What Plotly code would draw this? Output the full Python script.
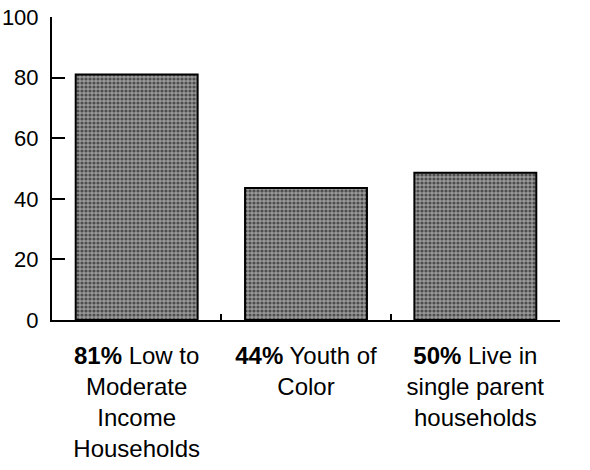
import plotly.graph_objects as go

categories = ["Low to Moderate Income Households", "Youth of Color", "Live in single parent households"]
values = [81, 43.6, 48.6]
pct_labels = ["81%", "44%", "50%"]
tick_lines = [["Low to", "Moderate", "Income", "Households"],
              ["Youth of", "Color"],
              ["Live in", "single parent", "households"]]
y_ticks = [0, 20, 40, 60, 80, 100]

ticktext = []
for p, lines in zip(pct_labels, tick_lines):
    ticktext.append("<b>" + p + "</b> " + "<br>".join(lines))

fig = go.Figure(go.Bar(
    x=categories, y=values,
    marker=dict(
        color="#8c8c8c",
        line=dict(color="#000", width=2),
        pattern=dict(shape=".", fgcolor="#000", bgcolor="#9a9a9a", size=4, solidity=0.5, fillmode="overlay"),
    ),
    width=0.72,
))

fig.update_layout(
    width=590, height=470,
    margin=dict(l=52, r=30, t=17, b=150),
    paper_bgcolor="white", plot_bgcolor="white",
    showlegend=False,
    font=dict(family="Liberation Sans, Arial, sans-serif", color="#000"),
)
fig.update_xaxes(
    type="category", tickvals=categories, ticktext=ticktext,
    tickson="boundaries", ticks="inside", ticklen=6, tickwidth=2, tickcolor="#000",
    showline=True, linecolor="#000", linewidth=2, showgrid=False,
    tickfont=dict(size=24), ticklabelstandoff=13, automargin=False,
)
fig.update_yaxes(
    range=[0, 100], tickvals=y_ticks, ticks="inside", ticklen=13, tickwidth=2, tickcolor="#000",
    showline=True, linecolor="#000", linewidth=2, showgrid=False, zeroline=False,
    tickfont=dict(size=22), ticklabelstandoff=7, automargin=False,
)
fig.write_html("out.html", config={"displayModeBar": False},
               post_script="document.body.style.margin='0';document.body.style.overflow='hidden';")
